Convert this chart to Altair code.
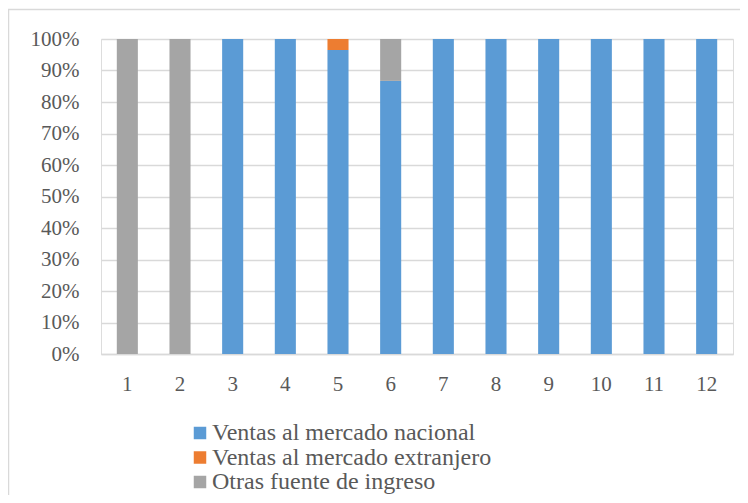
import altair as alt
import pandas as pd

categories = [str(i) for i in range(1, 13)]
series_names = ["Ventas al mercado nacional", "Ventas al mercado extranjero", "Otras fuente de ingreso"]
nacional = [0, 0, 100, 100, 96.5, 86.7, 100, 100, 100, 100, 100, 100]
extranjero = [0, 0, 0, 0, 3.5, 0, 0, 0, 0, 0, 0, 0]
otras = [100, 100, 0, 0, 0, 13.3, 0, 0, 0, 0, 0, 0]
colors = ["#5b9bd5", "#ed7d31", "#a5a5a5"]

rows = []
for i, c in enumerate(categories):
    for k, (name, vals) in enumerate(zip(series_names, [nacional, extranjero, otras])):
        rows.append({"cat": c, "serie": name, "valor": vals[i], "ord": k})
df = pd.DataFrame(rows)

FONT = "Liberation Serif"
TXT = "#595959"

bars = alt.Chart(df).mark_bar().encode(
    x=alt.X("cat:N", sort=categories, title=None,
            scale=alt.Scale(paddingInner=0.6, paddingOuter=0.3),
            axis=alt.Axis(labelAngle=0, ticks=False, domain=True, domainColor="#d9d9d9",
                          domainWidth=1.5, labelPadding=19, labelFontSize=21,
                          labelFont=FONT, labelColor=TXT, grid=False)),
    y=alt.Y("valor:Q", stack="normalize", title=None,
            scale=alt.Scale(domain=[0, 1]),
            axis=alt.Axis(format=".0%", values=[i / 10 for i in range(11)], ticks=False,
                          domain=False, gridColor="#d9d9d9", gridWidth=1.5,
                          labelPadding=22, labelFontSize=21, labelFont=FONT, labelColor=TXT)),
    color=alt.Color("serie:N", sort=series_names,
                    scale=alt.Scale(domain=series_names, range=colors),
                    legend=alt.Legend(title=None, orient="none", legendX=87, legendY=382,
                                      direction="vertical", symbolType="square", symbolSize=156,
                                      symbolStrokeWidth=0, labelFontSize=24, labelFont=FONT,
                                      labelColor=TXT, rowPadding=0.5, labelOffset=0,
                                      labelLimit=400)),
    order=alt.Order("ord:Q", sort="ascending"),
)

border_left = alt.Chart(pd.DataFrame({"b": [0]})).mark_rule(
    color="#d9d9d9", strokeWidth=1.5, clip=False
).encode(x=alt.value(-92.5), y=alt.value(-29.5), y2=alt.value(470))
border_top = alt.Chart(pd.DataFrame({"b": [0]})).mark_rule(
    color="#d9d9d9", strokeWidth=1.5, clip=False
).encode(x=alt.value(-93), x2=alt.value(650), y=alt.value(-29.5))

chart = alt.layer(border_left, border_top, bars).properties(
    width=632, height=315,
    autosize=alt.AutoSizeParams(type="none"),
    padding={"left": 93, "top": 31, "right": 7, "bottom": 141},
).configure_view(stroke=None).configure(background="white", font=FONT)

chart.save("out.html", embed_options={"renderer": "svg", "actions": False})
